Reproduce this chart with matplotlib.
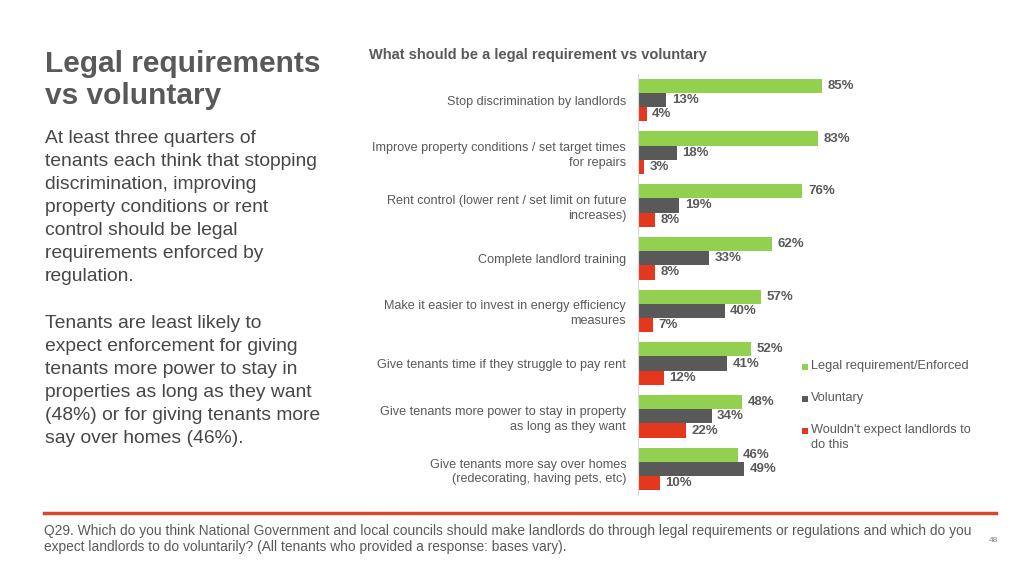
import matplotlib.pyplot as plt
from matplotlib.patches import Rectangle
import numpy as np

categories = [
    "Stop discrimination by landlords",
    "Improve property conditions / set target times\nfor repairs",
    "Rent control (lower rent / set limit on future\nincreases)",
    "Complete landlord training",
    "Make it easier to invest in energy efficiency\nmeasures",
    "Give tenants time if they struggle to pay rent",
    "Give tenants more power to stay in property\nas long as they want",
    "Give tenants more say over homes\n(redecorating, having pets, etc)",
]
legal = [85, 83, 76, 62, 57, 52, 48, 46]
voluntary = [13, 18, 19, 33, 40, 41, 34, 49]
not_expected = [4, 3, 8, 8, 7, 12, 22, 10]
series_names = ["Legal requirement/Enforced", "Voluntary",
                "Wouldn't expect landlords to\ndo this"]
colors = ["#92D050", "#595959", "#E3371E"]

plt.rcParams["font.family"] = ["Liberation Sans", "DejaVu Sans"]
text_grey = "#595959"

fig = plt.figure(figsize=(10.24, 5.76), dpi=100)

ax = fig.add_axes([0.623, 0.140, 0.2114, 0.732])
y = np.arange(len(categories))
h = 0.27
for off, vals, c in zip([-h, 0, h], [legal, voluntary, not_expected], colors):
    bars = ax.barh(y + off, vals, height=h, color=c, linewidth=0)
    for b, v in zip(bars, vals):
        ax.annotate(f"{v}%", (b.get_width(), b.get_y() + b.get_height() / 2),
                    xytext=(4, 0), textcoords="offset points", va="center",
                    ha="left", fontsize=9.5, fontweight="bold", color=text_grey)

ax.set_xlim(0, 100)
ax.set_ylim(len(categories) - 0.5, -0.5)
ax.set_yticks(y)
ax.set_yticklabels(categories, fontsize=9.1, color=text_grey, linespacing=1.3)
ax.tick_params(axis="y", length=0, pad=8.5)
ax.set_xticks([])
for s in ["top", "right", "bottom"]:
    ax.spines[s].set_visible(False)
ax.spines["left"].set_color("#D9D9D9")

# legend drawn by hand so the marker sits on the first line
leg_y = [367, 399, 431]
for name, c, ly in zip(series_names, colors, leg_y):
    fig.patches.append(Rectangle((802 / 1024, 1 - (ly + 3) / 576), 6 / 1024, 6 / 576,
                                 transform=fig.transFigure, color=c, linewidth=0))
    fig.text(811 / 1024, 1 - (ly - 7) / 576, name, fontsize=9.2, color=text_grey,
             va="top", ha="left", linespacing=1.35)

fig.text(369 / 1024, 1 - 55 / 576, "What should be a legal requirement vs voluntary",
         fontsize=10.5, fontweight="bold", color=text_grey, va="center")

fig.text(45 / 1024, 1 - 50 / 576, "Legal requirements\nvs voluntary", fontsize=21.5,
         fontweight="bold", color=text_grey, va="top", linespacing=1.18)

para1 = ("At least three quarters of\ntenants each think that stopping\n"
         "discrimination, improving\nproperty conditions or rent\n"
         "control should be legal\nrequirements enforced by\nregulation.")
para2 = ("Tenants are least likely to\nexpect enforcement for giving\n"
         "tenants more power to stay in\nproperties as long as they want\n"
         "(48%) or for giving tenants more\nsay over homes (46%).")
fig.text(45 / 1024, 1 - 130 / 576, para1, fontsize=13.9, color="#474747",
         va="top", linespacing=1.46)
fig.text(45 / 1024, 1 - 315 / 576, para2, fontsize=13.9, color="#474747",
         va="top", linespacing=1.46)

fig.add_artist(plt.Line2D([44 / 1024, 996 / 1024], [1 - 513 / 576] * 2,
                          transform=fig.transFigure, color="#D9472B", linewidth=2.5))

footer = ("Q29. Which do you think National Government and local councils should make "
          "landlords do through legal requirements or regulations and which do you\n"
          "expect landlords to do voluntarily? (All tenants who provided a response: bases vary).")
fig.text(44 / 1024, 1 - 539 / 576, footer, fontsize=9.9, color=text_grey,
         va="center", linespacing=1.2)
fig.text(993 / 1024, 1 - 541 / 576, "48", fontsize=6, color="#7F7F7F",
         va="center", ha="center")

fig.savefig("out.png", dpi=100)
